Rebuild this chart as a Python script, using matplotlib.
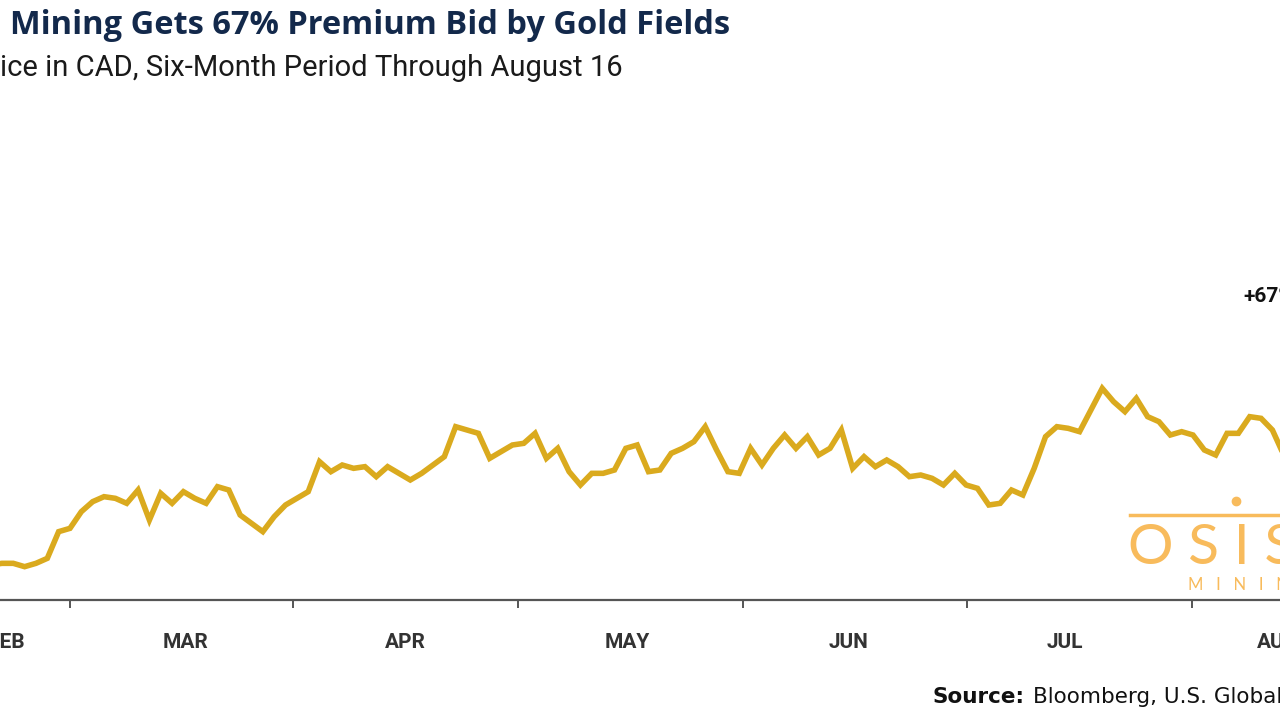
import matplotlib
matplotlib.use('Agg')
import matplotlib.pyplot as plt
import numpy as np
from matplotlib.lines import Line2D

# Osisko Mining share price (CAD), one value per trading day
price = [2.50, 2.51, 2.51, 2.49, 2.51, 2.54, 2.70, 2.72, 2.82, 2.88,
         2.91, 2.90, 2.87, 2.95, 2.77, 2.93, 2.87, 2.94, 2.90, 2.87,
         2.97, 2.95, 2.80, 2.75, 2.70, 2.79, 2.86, 2.90, 2.94, 3.12,
         3.06, 3.10, 3.08, 3.09, 3.03, 3.09, 3.05, 3.01, 3.05, 3.10,
         3.15, 3.33, 3.31, 3.29, 3.14, 3.18, 3.22, 3.23, 3.29, 3.14,
         3.20, 3.06, 2.98, 3.05, 3.05, 3.07, 3.20, 3.22, 3.06, 3.07,
         3.17, 3.20, 3.24, 3.33, 3.19, 3.06, 3.05, 3.20, 3.10, 3.20,
         3.28, 3.20, 3.27, 3.16, 3.20, 3.31, 3.08, 3.15, 3.09, 3.13,
         3.09, 3.03, 3.04, 3.02, 2.98, 3.05, 2.98, 2.96, 2.86, 2.87,
         2.95, 2.92, 3.08, 3.27, 3.33, 3.32, 3.30, 3.43, 3.56, 3.48,
         3.42, 3.50, 3.39, 3.36, 3.28, 3.30, 3.28, 3.19, 3.16, 3.29,
         3.29, 3.39, 3.38, 3.31, 3.16]

# month boundaries (tick marks) and month label positions, in trading-day index
month_ticks = [7.0, 26.7, 46.5, 66.3, 86.1, 105.9]
month_names = ['FEB', 'MAR', 'APR', 'MAY', 'JUN', 'JUL', 'AUG']
month_label_pos = [1.4, 17.2, 36.6, 56.1, 75.6, 94.7, 113.5]

W, H = 1280, 720
fig = plt.figure(figsize=(W / 100, H / 100), dpi=100)
fig.patch.set_facecolor('white')

def fx(px):
    return px / W

def fy(py):
    return 1 - py / H

ax = fig.add_axes([0, fy(600), 1, fy(100) - fy(600)])
x = np.arange(len(price))
ax.plot(x, price, color='#DAAA1E', linewidth=4.0, solid_joinstyle='miter')
ax.set_xlim(0.83, 113.67)
ax.set_ylim(2.29, 5.29)

for s in ['top', 'left', 'right']:
    ax.spines[s].set_visible(False)
ax.spines['bottom'].set_color('#555555')
ax.spines['bottom'].set_linewidth(1.6)
ax.set_yticks([])
ax.set_xticks(month_ticks)
ax.set_xticklabels([])
ax.tick_params(axis='x', which='major', direction='out', length=6, width=1.4, color='#555555')
ax.set_xticks(month_label_pos, minor=True)
ax.set_xticklabels(month_names, minor=True, fontsize=15, fontweight='bold',
                   color='#333333', family='Roboto')
ax.tick_params(axis='x', which='minor', length=0, pad=24)

# titles (left part cut off in the original)
fig.text(fx(10), fy(25), 'Mining Gets 67% Premium Bid by Gold Fields', fontsize=23.5,
         fontweight='bold', color='#13294B', va='center', ha='left', family='Open Sans')
fig.text(fx(0), fy(68), 'ice in CAD, Six-Month Period Through August 16', fontsize=21,
         color='#1a1a1a', va='center', ha='left', family='Roboto')

# annotation
fig.text(fx(1243), fy(297), '+67%', fontsize=15, fontweight='bold', color='#111111',
         va='center', ha='left', family='Roboto')

# logo
logo_c = '#F8BB5C'
fig.add_artist(Line2D([fx(1130), fx(1280)], [fy(515), fy(515)], color=logo_c, linewidth=2.5))
fig.add_artist(Line2D([fx(1236)], [fy(501)], marker='o', markersize=6, color=logo_c))
fig.text(fx(1128), fy(549), 'O S I S K O', fontsize=41, color=logo_c, va='center', ha='left',
         family='Lato')
fig.text(fx(1188), fy(585), 'M   I   N   I   N   G', fontsize=12, color=logo_c, va='center',
         ha='left', family='Lato')

# source line
fig.text(fx(933), fy(697), 'Source:', fontsize=15.5, fontweight='bold', color='#111111',
         va='center', ha='left', family='DejaVu Sans')
fig.text(fx(1033), fy(697), 'Bloomberg, U.S. Global Investors', fontsize=15.5, color='#111111',
         va='center', ha='left', family='DejaVu Sans')

fig.savefig('out.png', dpi=100)
